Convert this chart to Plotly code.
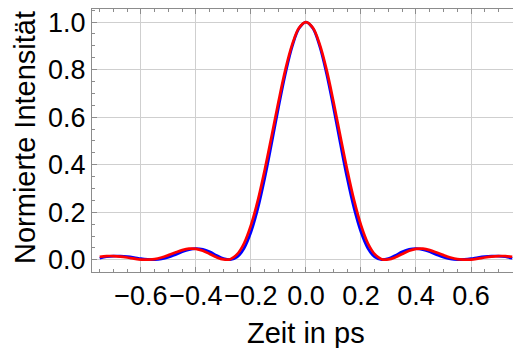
import plotly.graph_objects as go

# Zeit in ps
t_ps = [-0.75, -0.725, -0.7, -0.675, -0.65, -0.625, -0.6, -0.575, -0.55, -0.525,
        -0.5, -0.475, -0.45, -0.425, -0.4, -0.375, -0.35, -0.325, -0.3, -0.275,
        -0.25, -0.225, -0.2, -0.175, -0.15, -0.125, -0.1, -0.075, -0.05, -0.025,
        0.0,
        0.025, 0.05, 0.075, 0.1, 0.125, 0.15, 0.175, 0.2, 0.225, 0.25,
        0.275, 0.3, 0.325, 0.35, 0.375, 0.4, 0.425, 0.45, 0.475, 0.5,
        0.525, 0.55, 0.575, 0.6, 0.625, 0.65, 0.675, 0.7, 0.725, 0.75]

# blue curve (narrower)
blue_intensity = [0.007, 0.013, 0.016, 0.016, 0.014, 0.010, 0.005, 0.002, 0.001, 0.004,
                  0.011, 0.022, 0.034, 0.043, 0.047, 0.044, 0.034, 0.019, 0.006, 0.001,
                  0.012, 0.049, 0.117, 0.216, 0.343, 0.489, 0.641, 0.782, 0.898, 0.974,
                  1.0,
                  0.974, 0.898, 0.782, 0.641, 0.489, 0.343, 0.216, 0.117, 0.049, 0.012,
                  0.001, 0.006, 0.019, 0.034, 0.044, 0.047, 0.043, 0.034, 0.022, 0.011,
                  0.004, 0.001, 0.002, 0.005, 0.010, 0.014, 0.016, 0.016, 0.013, 0.007]

# red curve (slightly wider)
red_intensity = [0.013, 0.016, 0.016, 0.014, 0.010, 0.005, 0.001, 0.001, 0.003, 0.010,
                 0.020, 0.031, 0.041, 0.047, 0.046, 0.038, 0.025, 0.011, 0.002, 0.003,
                 0.024, 0.070, 0.146, 0.250, 0.378, 0.520, 0.665, 0.799, 0.906, 0.976,
                 1.0,
                 0.976, 0.906, 0.799, 0.665, 0.520, 0.378, 0.250, 0.146, 0.070, 0.024,
                 0.003, 0.002, 0.011, 0.025, 0.038, 0.046, 0.047, 0.041, 0.031, 0.020,
                 0.010, 0.003, 0.001, 0.001, 0.005, 0.010, 0.014, 0.016, 0.016, 0.013]

x_ticks = [-0.6, -0.4, -0.2, 0.0, 0.2, 0.4, 0.6]
x_tick_labels = ["\u22120.6", "\u22120.4", "\u22120.2", "0.0", "0.2", "0.4", "0.6"]
y_ticks = [0.0, 0.2, 0.4, 0.6, 0.8, 1.0]
y_tick_labels = ["0.0", "0.2", "0.4", "0.6", "0.8", "1.0"]

FONT = "Liberation Sans, Arial, sans-serif"
FRAME = "#8c8c8c"
GRID = "#cfcfcf"

W, H = 513, 348
ML, MR, MT, MB = 92, 0, 9, 76
plot_w = W - ML - MR
plot_h = H - MT - MB

fig = go.Figure()
fig.add_trace(go.Scatter(x=t_ps, y=blue_intensity, mode="lines", line_shape="spline",
                         line=dict(color="#0000ff", width=2.7), showlegend=False))
fig.add_trace(go.Scatter(x=t_ps, y=red_intensity, mode="lines", line_shape="spline",
                         line=dict(color="#ff0000", width=2.7), showlegend=False))

fig.update_layout(
    width=W, height=H,
    margin=dict(l=ML, r=MR, t=MT, b=MB),
    paper_bgcolor="white", plot_bgcolor="white",
    font=dict(family=FONT, size=27, color="black"),
    xaxis=dict(range=[-0.778, 0.7527], tickvals=x_ticks, ticktext=x_tick_labels,
               tickangle=0,
               showgrid=True, gridcolor=GRID, gridwidth=1, zeroline=False,
               showline=True, linecolor=FRAME, linewidth=1, mirror="ticks",
               ticks="inside", ticklen=5, tickcolor=FRAME, tickwidth=1,
               minor=dict(dtick=0.05, tick0=0, ticks="inside", ticklen=3,
                          tickcolor=FRAME, showgrid=False),
               tickfont=dict(size=27), automargin=False),
    yaxis=dict(range=[-0.051, 1.055], tickvals=y_ticks, ticktext=y_tick_labels,
               showgrid=True, gridcolor=GRID, gridwidth=1, zeroline=False,
               showline=True, linecolor=FRAME, linewidth=1, mirror=False,
               ticks="inside", ticklen=5, tickcolor=FRAME, tickwidth=1,
               minor=dict(dtick=0.05, tick0=0, ticks="inside", ticklen=3,
                          tickcolor=FRAME, showgrid=False),
               tickfont=dict(size=27), automargin=False),
    annotations=[
        dict(text="Zeit in ps", x=0.0, xref="x",
             y=(H - MB - 333) / plot_h, yref="paper",
             xanchor="center", yanchor="middle",
             showarrow=False, font=dict(size=29)),
        dict(text="Normierte Intensität",
             x=(25 - ML) / plot_w, xref="paper",
             y=(H - MB - 138) / plot_h, yref="paper",
             xanchor="center", yanchor="middle",
             textangle=-90, showarrow=False, font=dict(size=29)),
    ],
)

fig.write_html("out.html")
